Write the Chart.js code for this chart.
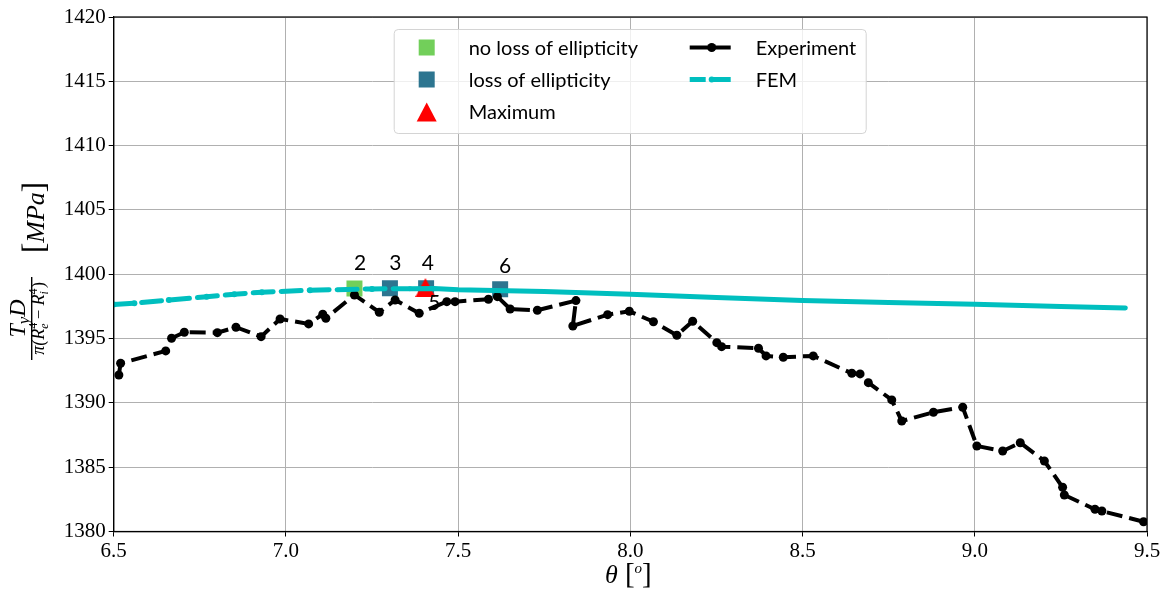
<!DOCTYPE html>
<html>
<head>
<meta charset="utf-8">
<script src="https://cdn.jsdelivr.net/npm/chart.js@4.4.1/dist/chart.umd.min.js"></script>
<style>
html,body{margin:0;padding:0;background:#fff}
#wrap{position:relative;width:1165px;height:592px}
</style>
</head>
<body>
<div id="wrap"><canvas id="c"></canvas></div>
<script>
// experiment (theta in deg, normalised torque in MPa)
const expTheta=[6.515,6.520,6.651,6.668,6.705,6.801,6.855,6.928,6.983,7.066,7.107,7.116,7.199,7.271,7.317,7.387,7.467,7.491,7.588,7.614,7.651,7.730,7.842,7.833,7.934,7.997,8.067,8.135,8.181,8.251,8.265,8.372,8.394,8.444,8.531,8.643,8.667,8.691,8.759,8.788,8.880,8.965,9.006,9.081,9.132,9.202,9.255,9.260,9.349,9.369,9.490];
const expVal=[1392.17,1393.08,1394.04,1395.02,1395.49,1395.46,1395.88,1395.15,1396.52,1396.14,1396.89,1396.58,1398.39,1397.05,1398.00,1396.97,1397.87,1397.87,1398.06,1398.26,1397.30,1397.20,1397.95,1395.98,1396.86,1397.12,1396.31,1395.26,1396.35,1394.68,1394.37,1394.25,1393.65,1393.55,1393.65,1392.30,1392.25,1391.57,1390.23,1388.59,1389.27,1389.66,1386.65,1386.26,1386.90,1385.48,1383.44,1382.84,1381.73,1381.59,1380.76];

// FEM curve
const femTheta=[6.5,6.56,6.66,6.77,6.85,6.93,7.07,7.25,7.36,7.43,7.5,7.75,8.0,8.25,8.5,8.75,9.0,9.25,9.437];
const femVal=[1397.65,1397.75,1398.0,1398.25,1398.45,1398.6,1398.76,1398.86,1398.88,1398.9,1398.8,1398.66,1398.44,1398.2,1397.96,1397.8,1397.66,1397.5,1397.38];

// special points
const noLossTheta=[7.199];
const noLossVal=[1398.9];
const lossTheta=[7.302,7.407,7.622];
const lossVal=[1398.91,1398.91,1398.83];
const maxTheta=[7.405];
const maxVal=[1398.97];

// numbering of the special points
const markText=["2","3","4","5","6"];
const markTheta=[7.215,7.318,7.412,7.431,7.636];
const markVal=[1400.86,1400.86,1400.86,1397.74,1400.59];

const GREEN="#72cf5a",BLUE="#2d7590",CYAN="#00bfbf";
const pts=(xs,ys)=>xs.map((x,i)=>({x:x,y:ys[i]}));
const SERIF="'Liberation Serif','DejaVu Serif',serif";
const SANS="Lato,'Open Sans',sans-serif";

// matplotlib style triangle (centred on its bounding box)
const tri=document.createElement("canvas");
tri.width=20;tri.height=19;
(function(){
  const t=tri.getContext("2d");
  t.fillStyle="#ff0000";t.beginPath();
  t.moveTo(10,0);t.lineTo(20,19);t.lineTo(0,19);t.closePath();t.fill();
})();

// parts: [text, font, dy, noAdvance]
function rich(ctx,parts,x,y){
  let w=0;
  parts.forEach(p=>{if(p[3])return;ctx.font=p[1];w+=ctx.measureText(p[0]).width;});
  let cx=x-w/2;
  parts.forEach(p=>{
    ctx.font=p[1];ctx.fillText(p[0],cx,y+(p[2]||0));
    if(!p[3])cx+=ctx.measureText(p[0]).width;
  });
  return w;
}

const extras={
  id:"extras",
  afterDraw(chart){
    const ctx=chart.ctx,a=chart.chartArea,sx=chart.scales.x,sy=chart.scales.y;
    ctx.save();
    // spines
    ctx.strokeStyle="#000";ctx.lineWidth=1.2;
    ctx.strokeRect(a.left,a.top,a.right-a.left,a.bottom-a.top);

    // point numbers
    ctx.fillStyle="#000";ctx.textAlign="left";ctx.textBaseline="middle";
    markText.forEach((t,i)=>{
      ctx.font="21px "+SANS;
      const w=ctx.measureText(t).width;
      ctx.fillText(t,sx.getPixelForValue(markTheta[i])-w/2,sy.getPixelForValue(markVal[i]));
    });

    // legend
    const L=a.left+280,T=a.top+12;
    ctx.fillStyle="rgba(255,255,255,0.8)";ctx.strokeStyle="#d4d4d4";ctx.lineWidth=1;
    ctx.beginPath();ctx.roundRect(L+0.5,T+0.5,472,104,4);ctx.fill();ctx.stroke();
    const rows=[T+18.5,T+50.5,T+83];
    ctx.fillStyle=GREEN;ctx.fillRect(L+25,rows[0]-8,16,16);
    ctx.fillStyle=BLUE;ctx.fillRect(L+25,rows[1]-8,16,16);
    ctx.fillStyle="#ff0000";ctx.beginPath();
    ctx.moveTo(L+33,rows[2]-9.5);ctx.lineTo(L+43,rows[2]+9.5);ctx.lineTo(L+23,rows[2]+9.5);ctx.closePath();ctx.fill();
    // experiment sample
    ctx.strokeStyle="#000";ctx.lineWidth=4;ctx.setLineDash([]);
    ctx.beginPath();ctx.moveTo(L+296,rows[0]);ctx.lineTo(L+337,rows[0]);ctx.stroke();
    ctx.fillStyle="#000";ctx.beginPath();ctx.arc(L+318,rows[0],4.5,0,Math.PI*2);ctx.fill();
    // FEM sample
    ctx.strokeStyle=CYAN;ctx.lineWidth=5;
    ctx.beginPath();ctx.moveTo(L+296,rows[1]);ctx.lineTo(L+312,rows[1]);ctx.moveTo(L+318,rows[1]);ctx.lineTo(L+337,rows[1]);ctx.stroke();
    ctx.fillStyle=CYAN;ctx.beginPath();ctx.arc(L+318,rows[1],3,0,Math.PI*2);ctx.fill();

    ctx.fillStyle="#000";ctx.font="20px "+SANS;ctx.textBaseline="alphabetic";ctx.textAlign="left";
    const ds=chart.data.datasets;
    ctx.fillText(ds[0].label,L+75,rows[0]+7);
    ctx.fillText(ds[1].label,L+75,rows[1]+7);
    ctx.fillText(ds[2].label,L+75,rows[2]+7);
    ctx.fillText(ds[3].label,L+362,rows[0]+7);
    ctx.fillText(ds[4].label,L+362,rows[1]+7);

    // x axis title
    rich(ctx,[["\u03b8","italic 26px "+SERIF],[" [","29px "+SERIF],["o","italic 15px "+SERIF,-10],["]","29px "+SERIF]],(a.left+a.right)/2-2,583);

    // y axis title (rotated)
    ctx.translate(31.7,318.5);ctx.rotate(-Math.PI/2);
    ctx.strokeStyle="#000";ctx.lineWidth=1.4;
    ctx.beginPath();ctx.moveTo(-41.5,0);ctx.lineTo(41.5,0);ctx.stroke();
    rich(ctx,[["T","italic 24px "+SERIF],["y","italic 17px "+SERIF,4],["D","italic 24px "+SERIF]],0,-7);
    rich(ctx,[
      ["\u03c0(","italic 18px "+SERIF],["R","italic 18px "+SERIF],
      ["4","12px "+SERIF,-7,true],["e","italic 12px "+SERIF,4],
      [" \u2212 ","17px "+SERIF],["R","italic 18px "+SERIF],
      ["4","12px "+SERIF,-7,true],["i","italic 12px "+SERIF,4],[" ","12px "+SERIF],
      [")","18px "+SERIF]
    ],0,12);
    rich(ctx,[["[","31px "+SERIF],["MPa","italic 26px "+SERIF],["]","31px "+SERIF]],101,12);
    ctx.restore();
  }
};

new Chart(document.getElementById("c"),{
  type:"scatter",
  data:{datasets:[
    {label:"no loss of ellipticity",data:pts(noLossTheta,noLossVal),pointStyle:"rect",pointRadius:11.3,
     backgroundColor:GREEN,borderWidth:0,order:3},
    {label:"loss of ellipticity",data:pts(lossTheta,lossVal),pointStyle:"rect",pointRadius:11.3,
     backgroundColor:BLUE,borderWidth:0,order:3},
    {label:"Maximum",data:pts(maxTheta,maxVal),pointStyle:tri,pointRadius:10,
     backgroundColor:"#ff0000",borderWidth:0,order:1},
    {label:"Experiment",data:pts(expTheta,expVal),showLine:true,borderColor:"#000",borderWidth:4,
     borderDash:[16,7],pointRadius:4.5,pointBackgroundColor:"#000",pointBorderWidth:0,order:2},
    {label:"FEM",data:pts(femTheta,femVal),showLine:true,borderColor:CYAN,borderWidth:5,
     borderCapStyle:"round",
     segment:{borderDash:c=>c.p0.parsed.x<7.36?[20,8]:[]},
     pointRadius:c=>(c.raw&&c.raw.x<7.36)?3:0,pointBackgroundColor:CYAN,pointBorderWidth:0,order:0}
  ]},
  options:{
    responsive:true,maintainAspectRatio:false,animation:false,
    layout:{padding:{top:17,right:18,left:0,bottom:0}},
    plugins:{legend:{display:false},tooltip:{enabled:false}},
    scales:{
      x:{type:"linear",min:6.5,max:9.5,
        grid:{color:"#b0b0b0",lineWidth:1,tickColor:"#000",tickLength:5},
        border:{color:"#000",width:1.2},
        ticks:{stepSize:0.5,padding:2,color:"#000",font:{family:SERIF,size:21},callback:v=>v.toFixed(1)},
        afterFit:s=>{s.height=60.5;}},
      y:{min:1380,max:1420,
        grid:{color:"#b0b0b0",lineWidth:1,tickColor:"#000",tickLength:5},
        border:{color:"#000",width:1.2},
        ticks:{stepSize:5,padding:3,color:"#000",font:{family:SERIF,size:21},callback:v=>String(v)},
        afterFit:s=>{s.width=113.7;}}
    }
  },
  plugins:[extras]
});
</script>
</body>
</html>
